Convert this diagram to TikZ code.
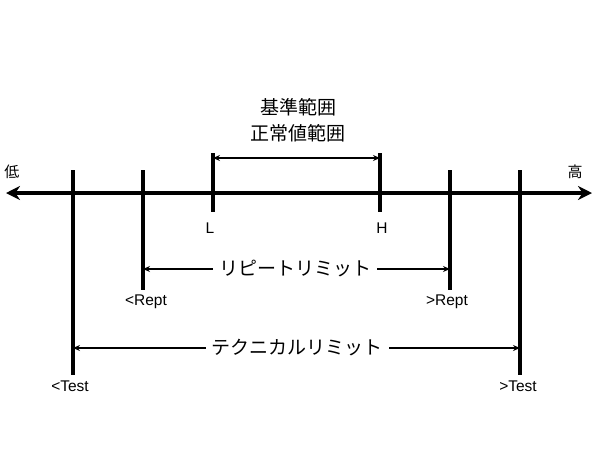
\documentclass[tikz,border=0pt]{standalone}
\usepackage{fontspec}
\usetikzlibrary{arrows.meta}
\setmainfont{Liberation Sans}
\newfontfamily\cjk{Noto Sans CJK JP}
\begin{document}
\begin{tikzpicture}[x=1pt,y=-1pt,
  tick/.style={line width=3.2pt},
  dim/.style={line width=1.3pt,{Stealth[length=7pt,width=6pt]}-{Stealth[length=7pt,width=6pt]}},
  jp/.style={font=\cjk\fontsize{19}{21}\selectfont,inner sep=1pt},
  lat/.style={font=\fontsize{15.5}{17}\selectfont}]
\useasboundingbox[fill=white] (0,0) rectangle (600,475);
\coordinate (a0) at (6,193); \coordinate (a1) at (592,193);
\draw[line width=3.2pt,{Stealth[length=14pt,width=14pt]}-{Stealth[length=14pt,width=14pt]}] (a0) -- (a1);
\node[jp,font=\cjk\fontsize{15}{16}\selectfont] (lo) at (12,172) {低};
\node[jp,font=\cjk\fontsize{15}{16}\selectfont] (hi) at (575,172) {高};
\foreach \n/\x/\t/\b in {t1/73/170/375,r1/143/170/290,l/213/153/212,h/380/153/212,r2/450/170/290,t2/520/170/375}{
  \coordinate (\n t) at (\x,\t); \coordinate (\n b) at (\x,\b);
  \draw[tick] (\n t) -- (\n b);}
\node[lat] (L) at (210,228) {L};
\node[lat] (H) at (382,228) {H};
\node[lat] (rl) at (146,302) {<Rept};
\node[lat] (rh) at (447,302) {>Rept};
\node[lat] (tl) at (70,386) {<Test};
\node[lat] (th) at (518,386) {>Test};
\coordinate (n1) at (213,158); \coordinate (n2) at (380,158);
\draw[dim] (n1) -- (n2);
\node[jp] (k1) at (298,107) {基準範囲};
\node[jp] (k2) at (298,133) {正常値範囲};
\coordinate (p1) at (143,269); \coordinate (p2) at (450,269);
\draw[dim] (p1) -- (p2);
\node[jp,fill=white,inner xsep=6pt] (rep) at (295,269) {リピートリミット};
\coordinate (q1) at (73,348); \coordinate (q2) at (520,348);
\draw[dim] (q1) -- (q2);
\node[jp,fill=white,inner xsep=6pt] (tec) at (297,348) {テクニカルリミット};
\end{tikzpicture}
\end{document}
